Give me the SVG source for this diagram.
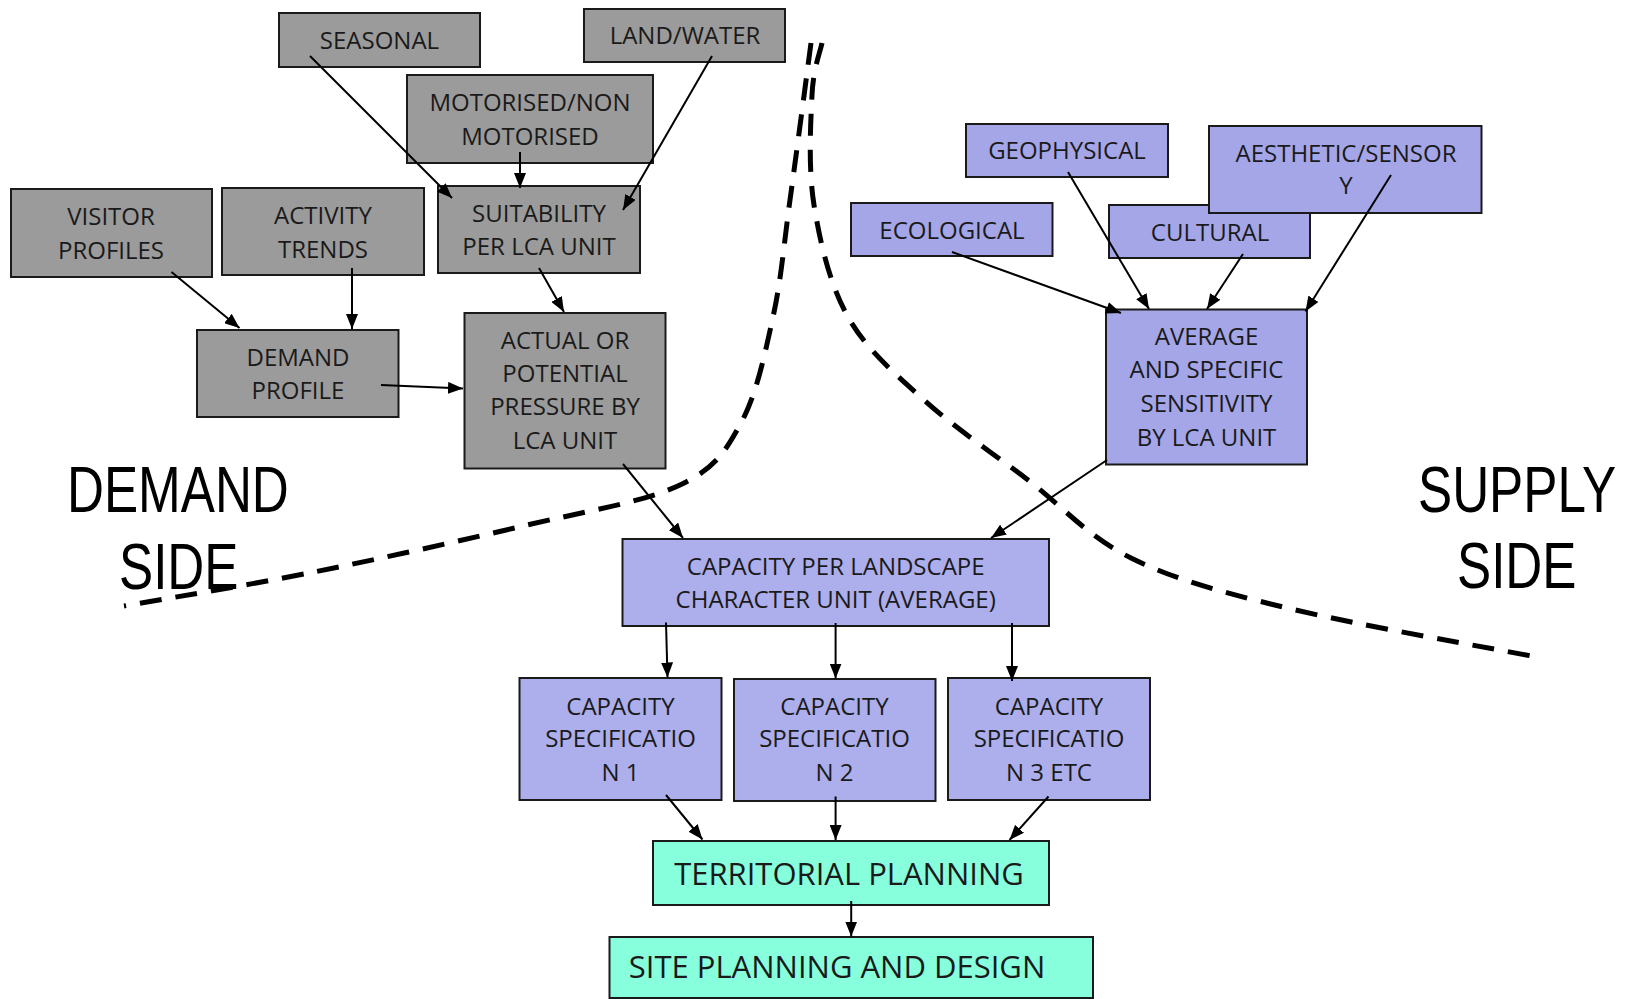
<svg xmlns="http://www.w3.org/2000/svg" width="1634" height="999" viewBox="0 0 1634 999">
<defs>
<style>
.g{fill:#9b9b9b;stroke:#1a1a1a;stroke-width:2}
.p{fill:#a5a6e8;stroke:#1a1a1a;stroke-width:2}
.q{fill:#adaeec;stroke:#1a1a1a;stroke-width:2}
.a{fill:#87ffdd;stroke:#1a1a1a;stroke-width:2}
.t{font-family:"Open Sans","Liberation Sans",sans-serif;font-size:24px;fill:#1a1a1a;text-anchor:middle}
.tl{font-family:"Open Sans","Liberation Sans",sans-serif;font-size:31px;fill:#1a1a1a;text-anchor:middle}
.big{font-family:"Liberation Sans",Arial,sans-serif;font-size:64px;fill:#000}
.c line{stroke:#000;stroke-width:2;marker-end:url(#ah)}
.d{fill:none;stroke:#000;stroke-width:5;stroke-dasharray:22 14}
</style>
<marker id="ah" markerWidth="15" markerHeight="12" refX="15" refY="6" orient="auto" markerUnits="userSpaceOnUse">
<path d="M0,0 L15,6 L0,12 z" fill="#000"/>
</marker>
</defs>
<rect width="1634" height="999" fill="#fff"/>

<g id="seasonal"><rect class="g" x="279" y="13" width="201" height="54"/><text class="t" x="379.5" y="49">SEASONAL</text></g>
<g id="landwater"><rect class="g" x="584" y="9" width="201" height="53"/><text class="t" x="685" y="44">LAND/WATER</text></g>
<g id="motorised"><rect class="g" x="407" y="75" width="246" height="88"/><text class="t" x="530" y="111">MOTORISED/NON</text><text class="t" x="530" y="145">MOTORISED</text></g>
<g id="suitability"><rect class="g" x="438" y="186" width="202" height="87"/><text class="t" x="539" y="222">SUITABILITY</text><text class="t" x="539" y="255">PER LCA UNIT</text></g>
<g id="visitor"><rect class="g" x="11" y="189" width="201" height="88"/><text class="t" x="111" y="225">VISITOR</text><text class="t" x="111" y="258.5">PROFILES</text></g>
<g id="activity"><rect class="g" x="222" y="188" width="202" height="87"/><text class="t" x="323" y="224">ACTIVITY</text><text class="t" x="323" y="258">TRENDS</text></g>
<g id="demand"><rect class="g" x="197" y="330" width="201.5" height="87"/><text class="t" x="298" y="366">DEMAND</text><text class="t" x="298" y="399">PROFILE</text></g>
<g id="pressure"><rect class="g" x="464.5" y="313" width="201" height="155.5"/><text class="t" x="565" y="349">ACTUAL OR</text><text class="t" x="565" y="382">POTENTIAL</text><text class="t" x="565" y="415">PRESSURE BY</text><text class="t" x="565" y="449">LCA UNIT</text></g>

<g id="geophysical"><rect class="p" x="966" y="124" width="202" height="53"/><text class="t" x="1067" y="159">GEOPHYSICAL</text></g>
<g id="ecological"><rect class="p" x="851" y="203" width="201.5" height="53"/><text class="t" x="952" y="239">ECOLOGICAL</text></g>
<g id="cultural"><rect class="p" x="1109" y="205" width="201" height="53"/><text class="t" x="1210" y="241">CULTURAL</text></g>
<g id="aesthetic"><rect class="p" x="1209" y="126" width="272.5" height="87"/><text class="t" x="1346" y="162">AESTHETIC/SENSOR</text><text class="t" x="1346" y="194">Y</text></g>
<g id="sensitivity"><rect class="p" x="1106" y="309.5" width="201" height="155"/><text class="t" x="1206.5" y="345">AVERAGE</text><text class="t" x="1206.5" y="378">AND SPECIFIC</text><text class="t" x="1206.5" y="411.5">SENSITIVITY</text><text class="t" x="1206.5" y="445.5">BY LCA UNIT</text></g>

<g id="capacity"><rect class="q" x="622.5" y="539" width="426.5" height="87"/><text class="t" x="835.7" y="575">CAPACITY PER LANDSCAPE</text><text class="t" x="835.7" y="607.5">CHARACTER UNIT (AVERAGE)</text></g>
<g id="spec1"><rect class="q" x="519.5" y="678" width="202" height="122"/><text class="t" x="620.5" y="714.5">CAPACITY</text><text class="t" x="620.5" y="747">SPECIFICATIO</text><text class="t" x="620.5" y="780.5">N 1</text></g>
<g id="spec2"><rect class="q" x="734" y="679" width="201.5" height="122"/><text class="t" x="834.5" y="714.5">CAPACITY</text><text class="t" x="834.5" y="747">SPECIFICATIO</text><text class="t" x="834.5" y="780.5">N 2</text></g>
<g id="spec3"><rect class="q" x="948" y="678" width="202" height="122"/><text class="t" x="1049" y="714.5">CAPACITY</text><text class="t" x="1049" y="747">SPECIFICATIO</text><text class="t" x="1049" y="780.5">N 3 ETC</text></g>
<g id="territorial"><rect class="a" x="653" y="841" width="396" height="64"/><text class="tl" x="849" y="884.5">TERRITORIAL PLANNING</text></g>
<g id="site"><rect class="a" x="609.5" y="937" width="483.5" height="61"/><text class="tl" x="837" y="978">SITE PLANNING AND DESIGN</text></g>

<g id="labels">
<text class="big" transform="translate(67,512) scale(0.8,1)">DEMAND</text>
<text class="big" transform="translate(119,589) scale(0.8,1)">SIDE</text>
<text class="big" transform="translate(1418,511.5) scale(0.8,1)">SUPPLY</text>
<text class="big" transform="translate(1457,588) scale(0.8,1)">SIDE</text>
</g>

<g id="connectors" class="c">
<line x1="310" y1="56" x2="452" y2="198"/>
<line x1="712" y1="56" x2="623" y2="210"/>
<line x1="520" y1="152" x2="520" y2="188"/>
<line x1="539" y1="268" x2="564" y2="312"/>
<line x1="171.5" y1="272" x2="239.5" y2="328"/>
<line x1="352" y1="268" x2="352" y2="329"/>
<line x1="381" y1="385" x2="463" y2="388.5"/>
<line x1="623" y1="464" x2="683" y2="538"/>
<line x1="952" y1="252" x2="1121" y2="313"/>
<line x1="1068" y1="172" x2="1149" y2="309"/>
<line x1="1243" y1="254" x2="1207" y2="309"/>
<line x1="1391" y1="175" x2="1305.5" y2="311.5"/>
<line x1="1107" y1="460" x2="991" y2="538"/>
<line x1="666" y1="622.5" x2="667.5" y2="677.5"/>
<line x1="835.6" y1="623" x2="835.6" y2="678.5"/>
<line x1="1012" y1="623" x2="1012" y2="681"/>
<line x1="666" y1="795" x2="702.5" y2="839.5"/>
<line x1="835.6" y1="796.5" x2="835.6" y2="840"/>
<line x1="1048.5" y1="796.5" x2="1009.5" y2="840"/>
<line x1="851.2" y1="901" x2="851.2" y2="936.5"/>
</g>

<g id="dividers">
<path class="d" d="M811,43 C807.5,69.2 796.3,154.3 790,200 C783.7,245.7 781.2,279.8 773,317 C764.8,354.2 756.5,395 741,423 C725.5,451 716.3,467.8 680,485 C643.7,502.2 584,511.5 523,526 C462,540.5 380.5,558.7 314,572 C247.5,585.3 155.7,600.3 124,606"/>
<path class="d" d="M822,43 C820.3,51.7 813.3,68 812,95 C810.7,122 808,168 814,205 C820,242 829.7,284.5 848,317 C866.3,349.5 894,372.8 924,400 C954,427.2 993.5,453.7 1028,480 C1062.5,506.3 1087.8,536.7 1131,558 C1174.2,579.3 1218.5,591.3 1287,608 C1355.5,624.7 1499.5,649.7 1542,658"/>
</g>
</svg>
